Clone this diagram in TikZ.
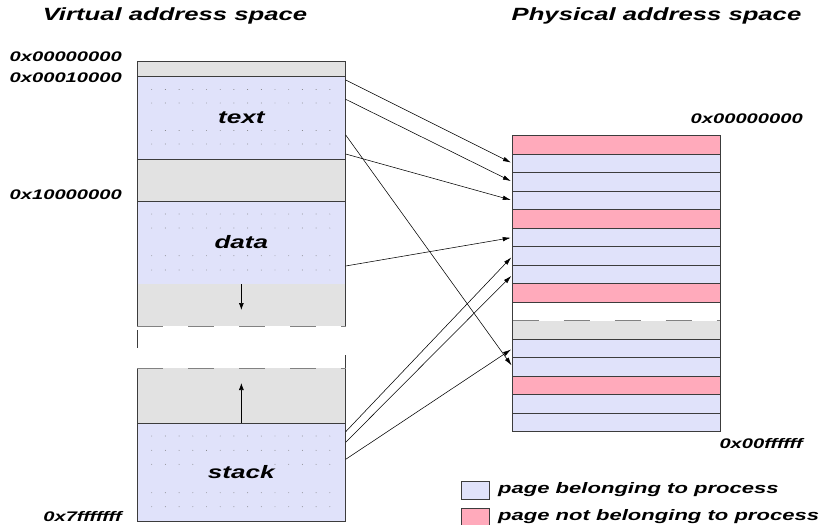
\documentclass[tikz,border=0pt]{standalone}
\usepackage{fontspec}
\setmainfont{Liberation Sans}[FakeStretch=1.45]
\usepackage{xcolor}
\usepackage{tikz}
\usetikzlibrary{arrows.meta}

\definecolor{pageblue}{RGB}{224,226,250}
\definecolor{pagepink}{RGB}{255,170,187}
\definecolor{freegray}{RGB}{226,226,226}
\definecolor{edgec}{RGB}{60,60,60}
\definecolor{dashc}{RGB}{130,130,130}
\definecolor{dotc}{RGB}{120,120,120}

\tikzset{
    vseg/.style={anchor=north west, minimum width=208.7pt, minimum height=#1,
      inner sep=0pt, outer sep=0pt, line width=0.8pt,
      font=\fontsize{18}{20}\selectfont\bfseries\itshape},
    pg/.style={anchor=north west, minimum width=207.3pt, minimum height=18.5pt,
      inner sep=0pt, outer sep=0pt, draw=edgec, line width=0.8pt},
    addr/.style={anchor=east, inner sep=0pt, font=\fontsize{13.9}{16}\selectfont\bfseries\itshape},
    head/.style={inner sep=0pt, font=\fontsize{17.7}{20}\selectfont\bfseries\itshape},
    legtext/.style={anchor=west, inner sep=0pt, font=\fontsize{15.2}{17}\selectfont\bfseries\itshape},
    gapline/.style={dashc, line width=0.9pt, dash pattern=on 26pt off 25pt},
    map/.style={line width=0.55pt, -{Latex[length=8pt,width=4.5pt]}, shorten >=2pt},
}

\begin{document}
\begin{tikzpicture}[x=1pt, y=-1pt]
    \useasboundingbox (0,0) rectangle (823,525);

    \node[head] (vtitle) at (175,16) {Virtual address space};
    \node[head] (ptitle) at (656.5,16) {Physical address space};

    % virtual address space
    \node[vseg=15pt, draw=edgec, fill=freegray] (vtop) at (137,61) {};
    \node[vseg=83pt, draw=edgec, fill=pageblue] (text) at (137,76) {};
    \node[vseg=42pt, draw=edgec, fill=freegray] (vfree) at (137,159) {};
    \node[vseg=83pt, draw=edgec, fill=pageblue] (data) at (137,201) {};
    \node[vseg=42pt, fill=freegray] (heap) at (137,284) {};
    \node[vseg=55pt, fill=freegray] (grow) at (137,368) {};
    \node[vseg=98pt, draw=edgec, fill=pageblue] (stack) at (137,423) {};

    \draw[edgec, line width=0.8pt] (heap.north west) -- (heap.south west)
      (heap.north east) -- (heap.south east)
      (grow.north west) -- (grow.south west)
      (grow.north east) -- (grow.south east);
    \draw[edgec, line width=0.8pt] (heap.south west) ++(0,4) -- ++(0,18);
    \draw[edgec, line width=0.8pt] (grow.north east) ++(0,-13) -- ++(0,13);
    \draw[gapline] (heap.south west) -- (heap.south east);
    \draw[gapline] (grow.north west) -- (grow.north east);

    \foreach \y in {89.5,103,130.5,144,214,228,255.7,270,436,450.3,492.7,506.7}
      \foreach \k in {0,...,13}
        \fill[dotc] (151.7+13.7*\k,\y) circle (0.45pt);
    \foreach \k in {0,1,2,3,9,10,11,12,13}
      \fill[dotc] (151.7+13.7*\k,464.3) circle (0.45pt);

    \node[font=\fontsize{18}{20}\selectfont\bfseries\itshape] (textlbl) at (text.center) {text};
    \node[font=\fontsize{18}{20}\selectfont\bfseries\itshape] (datalbl) at (data.center) {data};
    \node[font=\fontsize{18}{20}\selectfont\bfseries\itshape] (stacklbl) at (stack.center) {stack};

    \draw[line width=0.7pt, -{Latex[length=7pt,width=5pt]}] (heap.north) -- ++(0,26);
    \draw[line width=0.7pt, -{Latex[length=7pt,width=5pt]}] (grow.south) -- ++(0,-40);

    \node[addr] (a0) at (122,57) {0x00000000};
    \node[addr] (a1) at (122,78) {0x00010000};
    \node[addr] (a2) at (122,195) {0x10000000};
    \node[addr] (a3) at (122,517) {0x7fffffff};

    % physical address space
    \foreach \i/\c in {0/pagepink,1/pageblue,2/pageblue,3/pageblue,4/pagepink,
      5/pageblue,6/pageblue,7/pageblue,8/pagepink,11/pageblue,12/pageblue,
      13/pagepink,14/pageblue,15/pageblue}
      \node[pg, fill=\c] (p\i) at (512.7,135.7+18.5*\i) {};
    \node[pg, draw=none] (p9) at (512.7,135.7+18.5*9) {};
    \node[pg, draw=none, fill=freegray] (p10) at (512.7,135.7+18.5*10) {};
    \draw[edgec, line width=0.8pt] (p9.north west) -- (p10.south west)
      (p9.north east) -- (p10.south east);
    \draw[gapline] (p10.north west) -- (p10.north east);

    \node[addr] (b0) at (803,119) {0x00000000};
    \node[addr] (b1) at (803,444) {0x00ffffff};

    % page mapping
    \coordinate (t1) at (345.7,80);
    \coordinate (t2) at (345.7,99.3);
    \coordinate (t3) at (345.7,135);
    \coordinate (t4) at (345.7,154);
    \coordinate (d1) at (345.7,266);
    \coordinate (s1) at (345.7,431.7);
    \coordinate (s2) at (345.7,442.3);
    \coordinate (s3) at (345.7,459.3);
    \draw[map] (t1) -- (p1.west);
    \draw[map] (t2) -- (p2.west);
    \draw[map] (t4) -- (p3.west);
    \draw[map] (t3) -- (p12.west);
    \draw[map] (d1) -- (p5.west);
    \draw[map] (s1) -- (p6.west);
    \draw[map] (s2) -- (p7.west);
    \draw[map] (s3) -- (p11.west);

    % legend
    \node[draw=edgec, fill=pageblue, minimum width=28pt, minimum height=18.6pt,
      anchor=north west, inner sep=0pt] (leg1) at (460.7,480.7) {};
    \node[draw=edgec, fill=pagepink, minimum width=28pt, minimum height=18.6pt,
      anchor=north west, inner sep=0pt] (leg2) at (460.7,508.3) {};
    \node[legtext] (leg1txt) at (498,490) {page belonging to process};
    \node[legtext] (leg2txt) at (498,517) {page not belonging to process};
\end{tikzpicture}
\end{document}
